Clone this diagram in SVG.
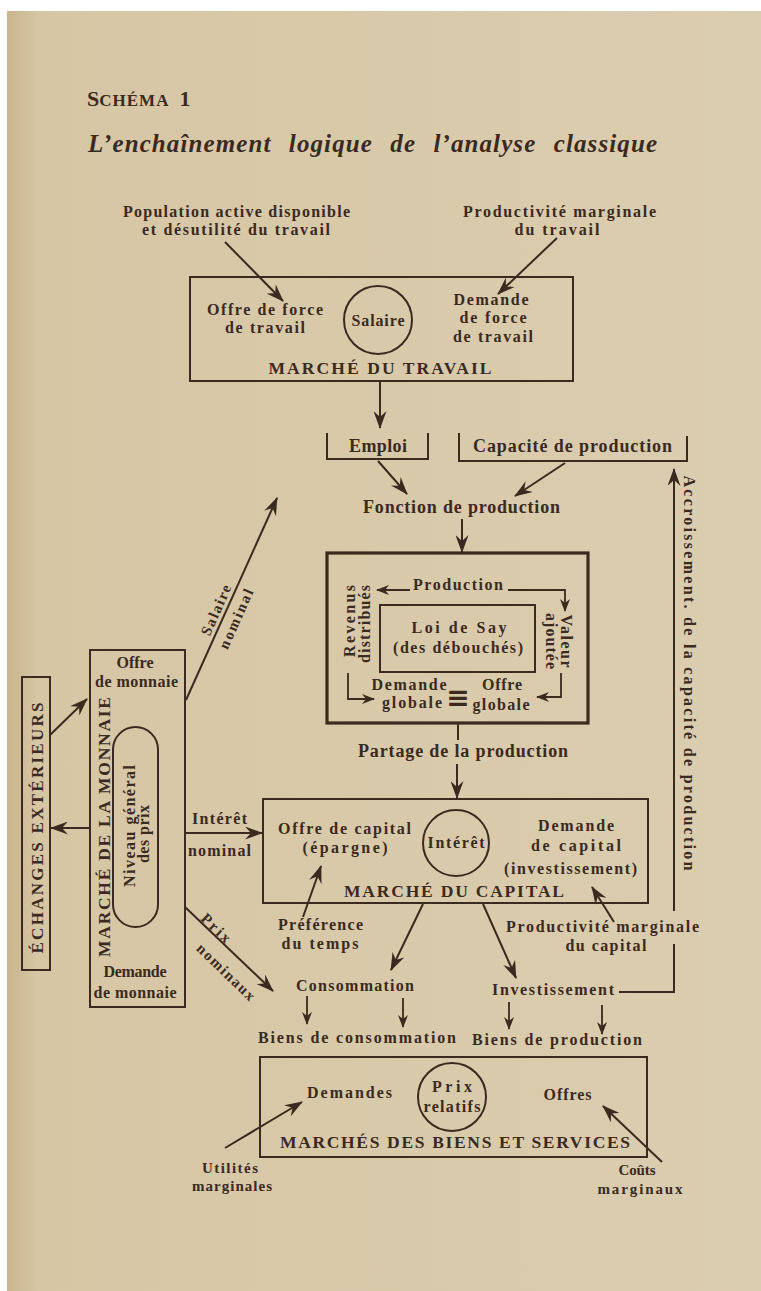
<svg xmlns="http://www.w3.org/2000/svg" width="761" height="1291" viewBox="0 0 761 1291">
<defs>
<style>
.t{font-family:"Liberation Serif","DejaVu Serif",serif;font-weight:bold;font-size:16px;fill:#3a2a1f}
.l{font-size:18px}
.c{text-anchor:middle}
.cap{font-size:17.5px}
.sm{font-size:15px}
.box{fill:none;stroke:#3a2a1f;stroke-width:2}
.thick{fill:none;stroke:#3a2a1f;stroke-width:3.2}
.ln{fill:none;stroke:#3a2a1f;stroke-width:2}
.ar{fill:none;stroke:#3a2a1f;stroke-width:2;marker-end:url(#ah)}
.as{fill:none;stroke:#3a2a1f;stroke-width:1.8;marker-end:url(#ahs)}
</style>
<linearGradient id="pg" x1="0" y1="0" x2="1" y2="0">
<stop offset="0" stop-color="#c9b48c"/>
<stop offset="0.04" stop-color="#d6c6a4"/>
<stop offset="1" stop-color="#dbcdb0"/>
</linearGradient>
<marker id="ah" markerUnits="userSpaceOnUse" markerWidth="18" markerHeight="13" viewBox="0 0 18 13" refX="17" refY="6.5" orient="auto">
<path d="M0,0 L18,6.5 L0,13 L6,6.5 z" fill="#3a2a1f"/>
</marker>
<marker id="ahs" markerUnits="userSpaceOnUse" markerWidth="13" markerHeight="10" viewBox="0 0 13 10" refX="12" refY="5" orient="auto">
<path d="M0,0 L13,5 L0,10 L4,5 z" fill="#3a2a1f"/>
</marker>
</defs>
<rect x="0" y="0" width="761" height="1291" fill="#ffffff"/>
<rect x="7" y="11" width="754" height="1280" fill="url(#pg)"/>

<g id="title">
<text class="t" x="87" y="106" style="font-size:22px">S<tspan style="font-size:17px" letter-spacing="1">CHÉMA</tspan><tspan dx="10">1</tspan></text>
<text class="t" x="88" y="152" style="font-size:25px;font-style:italic" word-spacing="10" textLength="569" lengthAdjust="spacing">L’enchaînement logique de l’analyse classique</text>
</g>

<g id="inputs-labour">
<text class="t c" x="236.5" y="217" textLength="227" lengthAdjust="spacing">Population active disponible</text>
<text class="t c" x="236" y="235" textLength="188" lengthAdjust="spacing">et désutilité du travail</text>
<text class="t c" x="559.5" y="217" textLength="193" lengthAdjust="spacing">Productivité marginale</text>
<text class="t c" x="557" y="235" textLength="85" lengthAdjust="spacing">du travail</text>
</g>

<g id="marche-travail">
<rect class="box" x="190" y="277" width="383" height="104"/>
<circle class="box" cx="378" cy="320" r="34"/>
<text class="t c" x="265" y="315" textLength="116" lengthAdjust="spacing">Offre de force</text>
<text class="t c" x="265" y="333" textLength="80" lengthAdjust="spacing">de travail</text>
<text class="t c" x="378" y="326" textLength="53" lengthAdjust="spacing">Salaire</text>
<text class="t c" x="491" y="305" textLength="75" lengthAdjust="spacing">Demande</text>
<text class="t c" x="493" y="323" textLength="67" lengthAdjust="spacing">de force</text>
<text class="t c" x="493" y="342" textLength="80" lengthAdjust="spacing">de travail</text>
<text class="t c cap" x="380" y="374" textLength="223" lengthAdjust="spacing">MARCHÉ DU TRAVAIL</text>
</g>

<g id="emploi">
<path class="ln" d="M327,433 V459 H428 V433"/>
<text class="t c l" x="378" y="452" textLength="58" lengthAdjust="spacing">Emploi</text>
</g>
<g id="capacite">
<path class="ln" d="M459,433 V461 H687 V436"/>
<text class="t c l" x="572.5" y="452" textLength="199" lengthAdjust="spacing">Capacité de production</text>
</g>
<g id="fonction">
<text class="t c l" x="461.5" y="513" textLength="197" lengthAdjust="spacing">Fonction de production</text>
</g>

<g id="loi-say">
<rect class="thick" x="327" y="553" width="261" height="170"/>
<rect class="box" x="380" y="605" width="155" height="67"/>
<text class="t c" x="458" y="590" textLength="90" lengthAdjust="spacing">Production</text>
<text class="t c" x="459" y="633" textLength="95" lengthAdjust="spacing">Loi de Say</text>
<text class="t c" x="458" y="653" textLength="130" lengthAdjust="spacing">(des débouchés)</text>
<text class="t c" transform="translate(355,621) rotate(-90)" textLength="72" lengthAdjust="spacing">Revenus</text>
<text class="t c" transform="translate(370,624) rotate(-90)" textLength="78" lengthAdjust="spacing">distribués</text>
<text class="t c" transform="translate(561,641) rotate(90)" textLength="53" lengthAdjust="spacing">Valeur</text>
<text class="t c" transform="translate(546,641) rotate(90)" textLength="56" lengthAdjust="spacing">ajoutée</text>
<text class="t c" x="409" y="690" textLength="75" lengthAdjust="spacing">Demande</text>
<text class="t c" x="412" y="708" textLength="60" lengthAdjust="spacing">globale</text>
<text class="t c" x="502" y="690" textLength="40" lengthAdjust="spacing">Offre</text>
<text class="t c" x="501" y="710" textLength="57" lengthAdjust="spacing">globale</text>
<text class="t c" x="458" y="707" style="font-family:'DejaVu Sans',sans-serif;font-size:28px">≡</text>
</g>

<g id="partage">
<text class="t c l" x="463" y="757" textLength="210" lengthAdjust="spacing">Partage de la production</text>
</g>

<g id="marche-capital">
<rect class="box" x="263" y="799" width="385" height="104"/>
<circle class="box" cx="456" cy="843" r="33"/>
<text class="t c" x="344.5" y="834" textLength="133" lengthAdjust="spacing">Offre de capital</text>
<text class="t c" x="345" y="853" textLength="85" lengthAdjust="spacing">(épargne)</text>
<text class="t c" x="456" y="848" textLength="57" lengthAdjust="spacing">Intérêt</text>
<text class="t c" x="576" y="831" textLength="76" lengthAdjust="spacing">Demande</text>
<text class="t c" x="576" y="851" textLength="90" lengthAdjust="spacing">de capital</text>
<text class="t c" x="570.5" y="874" textLength="133" lengthAdjust="spacing">(investissement)</text>
<text class="t c cap" x="454" y="897" textLength="220" lengthAdjust="spacing">MARCHÉ DU CAPITAL</text>
</g>

<g id="capital-inputs">
<text class="t c" x="320.5" y="930" textLength="85" lengthAdjust="spacing">Préférence</text>
<text class="t c" x="320" y="949" textLength="77" lengthAdjust="spacing">du temps</text>
<text class="t c" x="602.5" y="932" textLength="193" lengthAdjust="spacing">Productivité marginale</text>
<text class="t c" x="606" y="951" textLength="81" lengthAdjust="spacing">du capital</text>
</g>

<g id="consommation">
<text class="t c" x="355" y="991" textLength="118" lengthAdjust="spacing">Consommation</text>
</g>
<g id="investissement">
<text class="t c" x="553" y="995" textLength="122" lengthAdjust="spacing">Investissement</text>
</g>
<g id="biens">
<text class="t c" x="357" y="1043" textLength="198" lengthAdjust="spacing">Biens de consommation</text>
<text class="t c" x="557" y="1045" textLength="170" lengthAdjust="spacing">Biens de production</text>
</g>

<g id="marches-biens">
<rect class="box" x="260" y="1057" width="387" height="100"/>
<circle class="box" cx="452" cy="1097" r="34"/>
<text class="t c" x="349.5" y="1098" textLength="85" lengthAdjust="spacing">Demandes</text>
<text class="t c" x="452" y="1092" textLength="40" lengthAdjust="spacing">Prix</text>
<text class="t c" x="452" y="1112" textLength="57" lengthAdjust="spacing">relatifs</text>
<text class="t c" x="567.5" y="1100" textLength="48" lengthAdjust="spacing">Offres</text>
<text class="t c cap" x="455" y="1148" textLength="350" lengthAdjust="spacing">MARCHÉS DES BIENS ET SERVICES</text>
</g>
<g id="biens-inputs">
<text class="t c sm" x="230" y="1173" textLength="56" lengthAdjust="spacing">Utilités</text>
<text class="t c sm" x="232" y="1191" textLength="80" lengthAdjust="spacing">marginales</text>
<text class="t c sm" x="637" y="1175" textLength="37" lengthAdjust="spacing">Coûts</text>
<text class="t c sm" x="640" y="1194" textLength="85" lengthAdjust="spacing">marginaux</text>
</g>

<g id="marche-monnaie">
<rect class="box" x="90" y="650" width="95" height="357"/>
<rect class="box" x="113" y="727" width="45" height="200" rx="22.5"/>
<text class="t c" x="135" y="668" textLength="37" lengthAdjust="spacing">Offre</text>
<text class="t c" x="136.5" y="687" textLength="83" lengthAdjust="spacing">de monnaie</text>
<text class="t c" x="135" y="977" textLength="63" lengthAdjust="spacing">Demande</text>
<text class="t c" x="135" y="998" textLength="83" lengthAdjust="spacing">de monnaie</text>
<text class="t c cap" transform="translate(110,827) rotate(-90)" textLength="260" lengthAdjust="spacing">MARCHÉ DE LA MONNAIE</text>
<text class="t c" transform="translate(135,826) rotate(-90)" textLength="122" lengthAdjust="spacing">Niveau général</text>
<text class="t c" transform="translate(149,834) rotate(-90)" textLength="58" lengthAdjust="spacing">des prix</text>
</g>

<g id="echanges">
<rect class="box" x="22" y="677" width="28" height="293"/>
<text class="t c" style="font-size:17px" transform="translate(43,828) rotate(-90)" textLength="251" lengthAdjust="spacing">ÉCHANGES EXTÉRIEURS</text>
</g>

<g id="connectors">
<path class="ar" d="M225,242 L283,301"/>
<path class="ar" d="M557,238 L498,294"/>
<path class="ar" d="M380,381 L380,428"/>
<path class="ar" d="M378,461 L407,494"/>
<path class="ar" d="M565,463 L515,496"/>
<path class="ar" d="M462,519 L462,552"/>
<path class="as" d="M410,590 L377,590"/>
<path class="as" d="M508,590 H565 V611"/>
<path class="as" d="M348,673 V699 H374"/>
<path class="as" d="M561,673 V697 H537"/>
<path class="ln" d="M458,723 V740"/>
<path class="ar" d="M457,764 V798"/>
<path class="ar" d="M185,833 L262,833"/>
<path class="ar" d="M303,917 L321,866"/>
<path class="ar" d="M614,922 L592,887"/>
<path class="ar" d="M423,904 L391,970"/>
<path class="ar" d="M483,904 L516,978"/>
<path class="ln" d="M619,992 H674 V944"/>
<path class="ar" d="M674,911 V469"/>
<path class="as" d="M307,996 V1024"/>
<path class="as" d="M403,998 V1027"/>
<path class="as" d="M509,1002 V1029"/>
<path class="as" d="M602,1005 V1034"/>
<path class="ar" d="M225,1148 L302,1102"/>
<path class="ar" d="M662,1162 L603,1106"/>
<path class="ar" d="M50,735 L87,699"/>
<path class="ar" d="M90,828 L51,828"/>
<path class="ar" d="M186,700 L277,498"/>
<path class="ar" d="M185,907 L273,991"/>
<text class="t c" transform="translate(684,673) rotate(90)" textLength="395" lengthAdjust="spacing">Accroissement. de la capacité de production</text>
<text class="t c" x="219.5" y="824" textLength="55" lengthAdjust="spacing">Intérêt</text>
<text class="t c" x="219.5" y="856" textLength="63" lengthAdjust="spacing">nominal</text>
<text class="t c sm" transform="translate(220.6,612) rotate(-66)" textLength="54" lengthAdjust="spacing">Salaire</text>
<text class="t c sm" transform="translate(240.6,621) rotate(-66)" textLength="64" lengthAdjust="spacing">nominal</text>
<text class="t c sm" transform="translate(212.5,931.6) rotate(44)" textLength="35" lengthAdjust="spacing">Prix</text>
<text class="t c sm" transform="translate(222.5,975.6) rotate(44)" textLength="75" lengthAdjust="spacing">nominaux</text>
</g>
</svg>
